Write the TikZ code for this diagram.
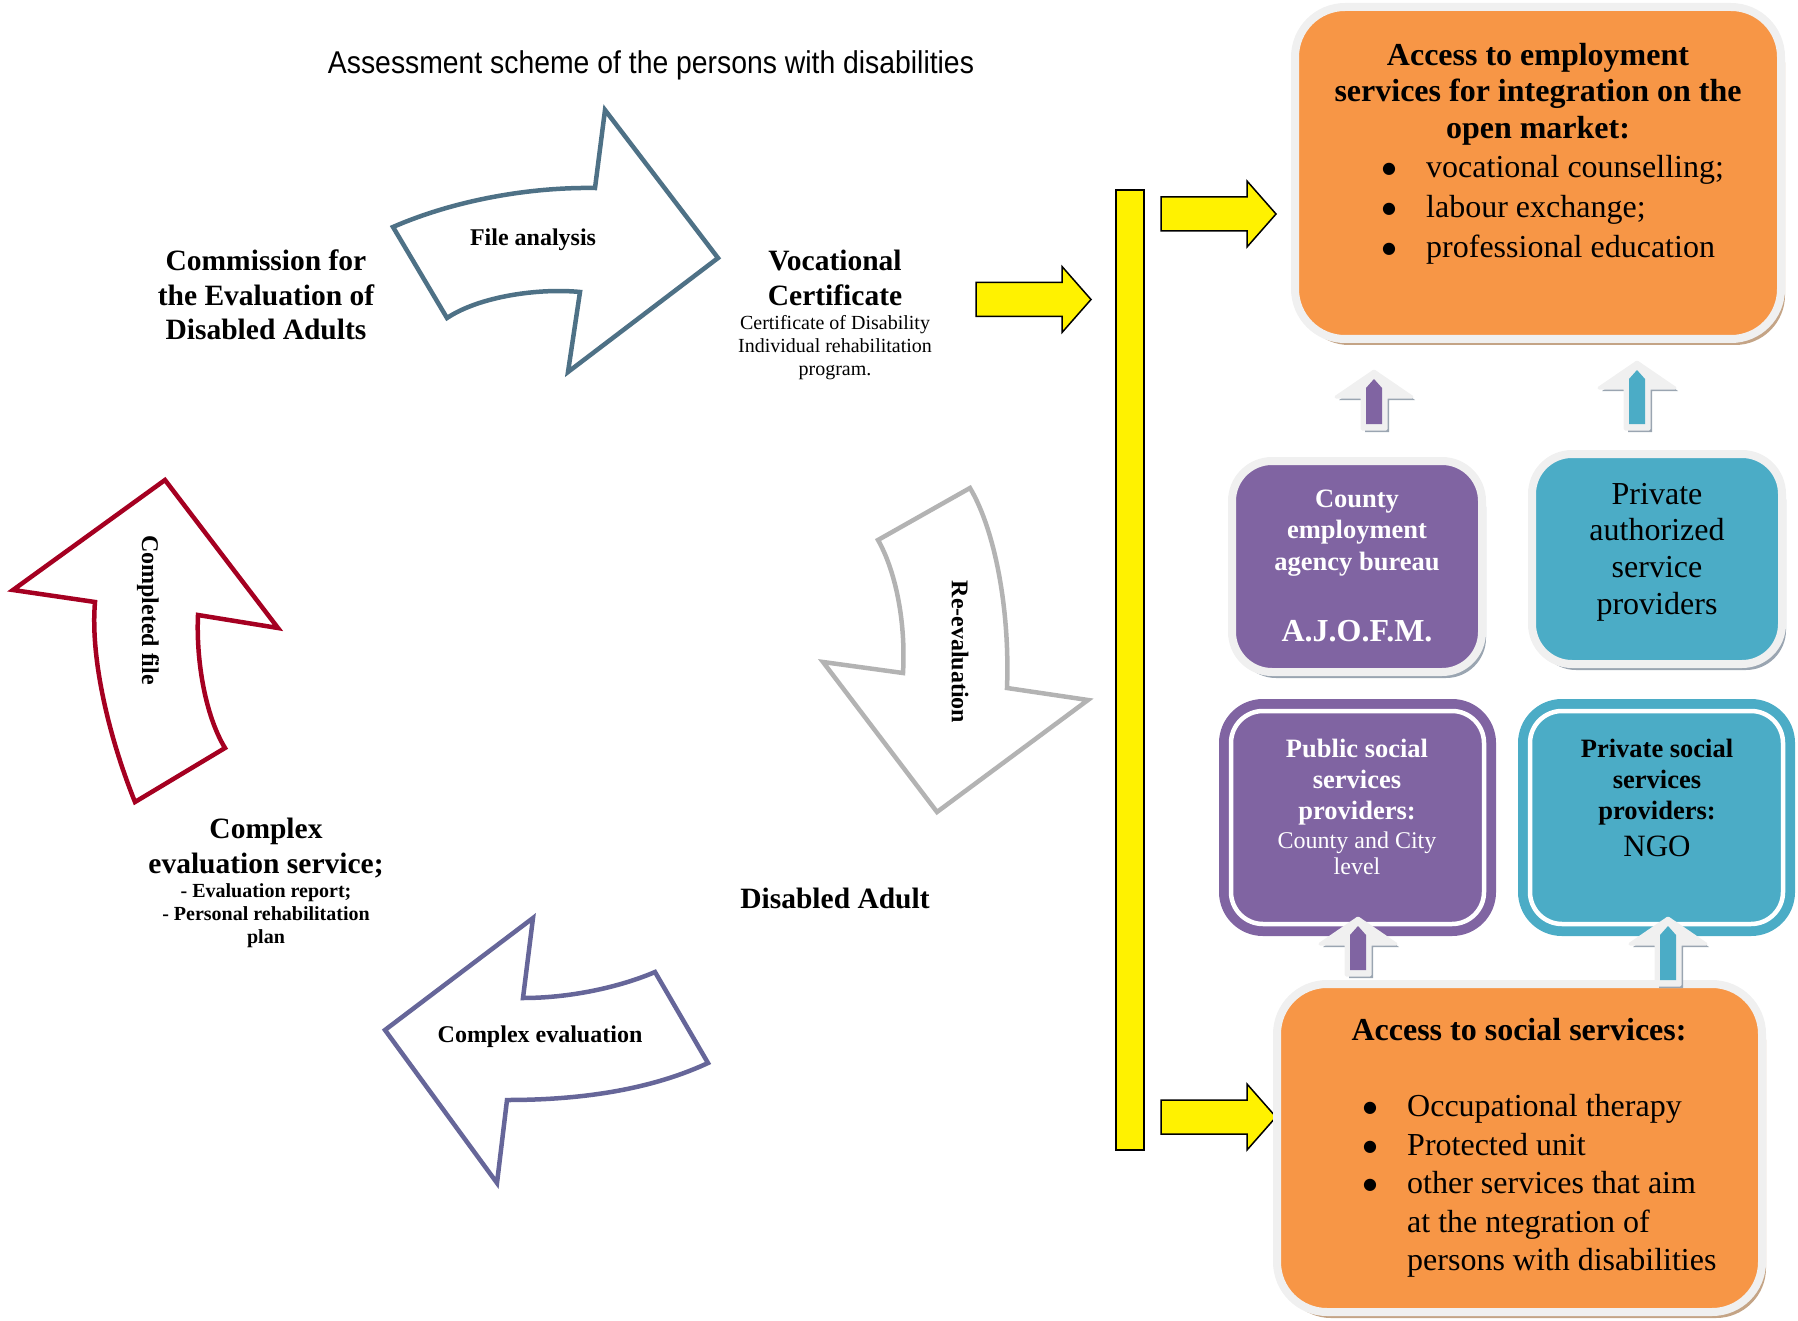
\documentclass[tikz,border=0pt]{standalone}
\usepackage{fontspec}
\setmainfont{Liberation Serif}
\newfontfamily\titlefont[FakeStretch=0.9]{Liberation Sans}
\newfontfamily\symfont{DejaVu Sans}
\usetikzlibrary{shadows}
\definecolor{orangefill}{HTML}{F79646}
\definecolor{purplefill}{HTML}{8064A2}
\definecolor{tealfill}{HTML}{4BACC6}
\definecolor{framegray}{HTML}{F0F0F0}
\definecolor{fileblue}{HTML}{4E7186}
\definecolor{filered}{HTML}{A50021}
\definecolor{evalgray}{HTML}{B3B3B3}
\definecolor{evalviolet}{HTML}{666699}
\definecolor{shadowbrown}{HTML}{C4A486}
\definecolor{shadowgray}{HTML}{9AA5B1}

\newcommand{\fs}[2]{\fontsize{#1}{#2}\selectfont}
\newcommand{\bul}{\makebox[44pt][l]{\raisebox{4pt}{\symfont\fs{16}{16}●}}}
% yellow block arrow: left end x, centre y
\newcommand{\yarr}[2]{\draw[yarrow] (#1,#2-17) -- (#1+86,#2-17) -- (#1+86,#2-33) -- (#1+115,#2)
  -- (#1+86,#2+33) -- (#1+86,#2+17) -- (#1,#2+17) -- cycle;}
% small up arrow: x, tip y, length, colour
\newcommand{\uparr}[4]{\draw[smallup] (#1,#2) -- (#1+38,#2+26) -- (#1+12,#2+26) -- (#1+12,#2+#3)
  -- (#1-12,#2+#3) -- (#1-12,#2+26) -- (#1-38,#2+26) -- cycle;
  \fill[#4] (#1,#2+8) -- (#1+8,#2+17) -- (#1+8,#2+#3-5) -- (#1-8,#2+#3-5) -- (#1-8,#2+17) -- cycle;}

\begin{document}
\begin{tikzpicture}[x=1pt, y=-1pt,
  hd/.style={font=\bfseries\fs{29.5}{34.5}, align=center},
  subtxt/.style={font=\fs{20}{23}, align=center},
  lbl/.style={font=\bfseries\fs{24}{28}},
  curvearrow/.style={line width=4.5pt, fill=white, line join=miter},
  yarrow/.style={draw=black, line width=1.5pt, fill=yellow, line join=miter},
  boxframe/.style={rectangle, draw=framegray, line width=8pt, rounded corners=#1},
  brownshadow/.style={drop shadow={shadow xshift=4pt, shadow yshift=-6pt, fill=shadowbrown, opacity=1}},
  grayshadow/.style={drop shadow={shadow xshift=4pt, shadow yshift=-6pt, fill=shadowgray, opacity=1}},
  ringbox/.style={rectangle, draw=white, line width=4.5pt, rounded corners=32pt,
    minimum width=253pt, minimum height=213pt, preaction={draw=#1, line width=24pt}, fill=#1},
  smallup/.style={draw=framegray, fill=framegray, line width=3pt, line join=round,
    drop shadow={shadow xshift=3pt, shadow yshift=-3pt, fill=shadowgray, opacity=1}}
]
\useasboundingbox (0,0) rectangle (1798,1321);

\node[font=\titlefont\fs{31.5}{36}] (title) at (651,65) {Assessment scheme of the persons with disabilities};

% the cycle
\node[hd] (comm) at (266,295) {Commission for\\the Evaluation of\\Disabled Adults};
\node[hd] (voc) at (835,278) {Vocational\\Certificate};
\node[subtxt] (vocsub) at (835,348) {Certificate of Disability\\Individual rehabilitation\\program.};
\node[hd] (ces) at (266,848) {Complex\\evaluation service;};
\node[subtxt, font=\bfseries\fs{20}{23}] (cessub) at (266,916) {- Evaluation report;\\- Personal rehabilitation\\plan};
\node[hd] (adult) at (835,898) {Disabled Adult};

\draw[curvearrow, draw=fileblue] (393,227) .. controls (455,200) and (530,187) .. (595,188) -- (605,110)
  -- (718,258) -- (568,372) -- (580,292) .. controls (540,288) and (480,296) .. (447,318) -- cycle;
\node[lbl] (fa) at (533,240) {File analysis};

\draw[curvearrow, draw=evalgray] (878,540) -- (970,488) .. controls (995,530) and (1010,610) .. (1007,688)
  -- (1088,700) -- (937,812) -- (823,662) -- (903,673) .. controls (906,620) and (895,570) .. (878,540) -- cycle;
\node[lbl, rotate=-90] (re) at (960,652) {Re-evaluation};

\draw[curvearrow, draw=evalviolet] (385,1030) -- (533,918) -- (523,998) .. controls (575,998) and (625,985) .. (655,972)
  -- (708,1063) .. controls (650,1090) and (580,1100) .. (507,1100) -- (497,1183) -- cycle;
\node[lbl] (ce) at (540,1037) {Complex evaluation};

\draw[curvearrow, draw=filered] (165,480) -- (278,628) -- (198,615) .. controls (196,660) and (205,715) .. (225,748)
  -- (135,802) .. controls (110,740) and (90,660) .. (95,602) -- (13,590) -- cycle;
\node[lbl, rotate=-90] (cf) at (148,610) {Completed file};

% yellow arrows and bar
\node[yarrow, rectangle, minimum width=28pt, minimum height=960pt, inner sep=0pt] (bar) at (1130,670) {};
\yarr{976}{299.5}
\yarr{1161}{214}
\yarr{1161}{1117}

% service boxes
\node[boxframe=50pt, fill=orangefill, minimum width=486pt, minimum height=332pt, brownshadow] (emp) at (1538,173) {};
\node[boxframe=40pt, fill=purplefill, minimum width=250pt, minimum height=211pt, grayshadow] (ajofmbox) at (1357,566.5) {};
\node[boxframe=40pt, fill=tealfill, minimum width=250pt, minimum height=210pt, grayshadow] (privbox) at (1657,559) {};
\node[ringbox=purplefill] (pubbox) at (1357.5,817.5) {};
\node[ringbox=tealfill] (ngobox) at (1656.5,817.5) {};
\node[boxframe=50pt, fill=orangefill, minimum width=485pt, minimum height=328pt, brownshadow] (soc) at (1519.5,1148) {};

\uparr{1374}{371}{58}{purplefill}
\uparr{1637}{362}{67}{tealfill}
\uparr{1358}{918}{57}{purplefill}
\uparr{1668}{918}{67}{tealfill}

\node[font=\bfseries\fs{32}{36.5}, align=center] (emphd) at (1538,94) {Access to employment\\services for integration on the\\open market:};
\node[font=\fs{32}{40}, align=left, anchor=west, inner sep=0pt] (emplist) at (1382,210) {\bul vocational counselling;\\\bul labour exchange;\\\bul professional education};

\node[font=\bfseries\fs{26.5}{31.5}, text=white, align=center] (ajtxt) at (1357,533) {County\\employment\\agency bureau};
\node[font=\bfseries\fs{32}{36}, text=white] (ajofm) at (1357,631) {A.J.O.F.M.};
\node[font=\fs{32}{36.7}, align=center] (privtxt) at (1657,552) {Private\\authorized\\service\\providers};

\node[font=\bfseries\fs{26.5}{31}, text=white, align=center] (pubtxt) at (1357,782) {Public social\\services\\providers:};
\node[font=\fs{24}{26.4}, text=white, align=center] (publvl) at (1357,853) {County and City\\level};
\node[font=\bfseries\fs{26.5}{31}, align=center] (ngotxt) at (1657,782) {Private social\\services\\providers:};
\node[font=\fs{31}{36}] (ngo) at (1657,846) {NGO};

\node[font=\bfseries\fs{32}{36}] (sochd) at (1519,1030) {Access to social services:};
\node[font=\fs{32}{38.5}, align=left, anchor=west, inner sep=0pt] (soclist) at (1363,1186) {\bul Occupational therapy\\\bul Protected unit\\\bul other services that aim\\\hspace*{44pt}at the ntegration of\\\hspace*{44pt}persons with disabilities};
\end{tikzpicture}
\end{document}
